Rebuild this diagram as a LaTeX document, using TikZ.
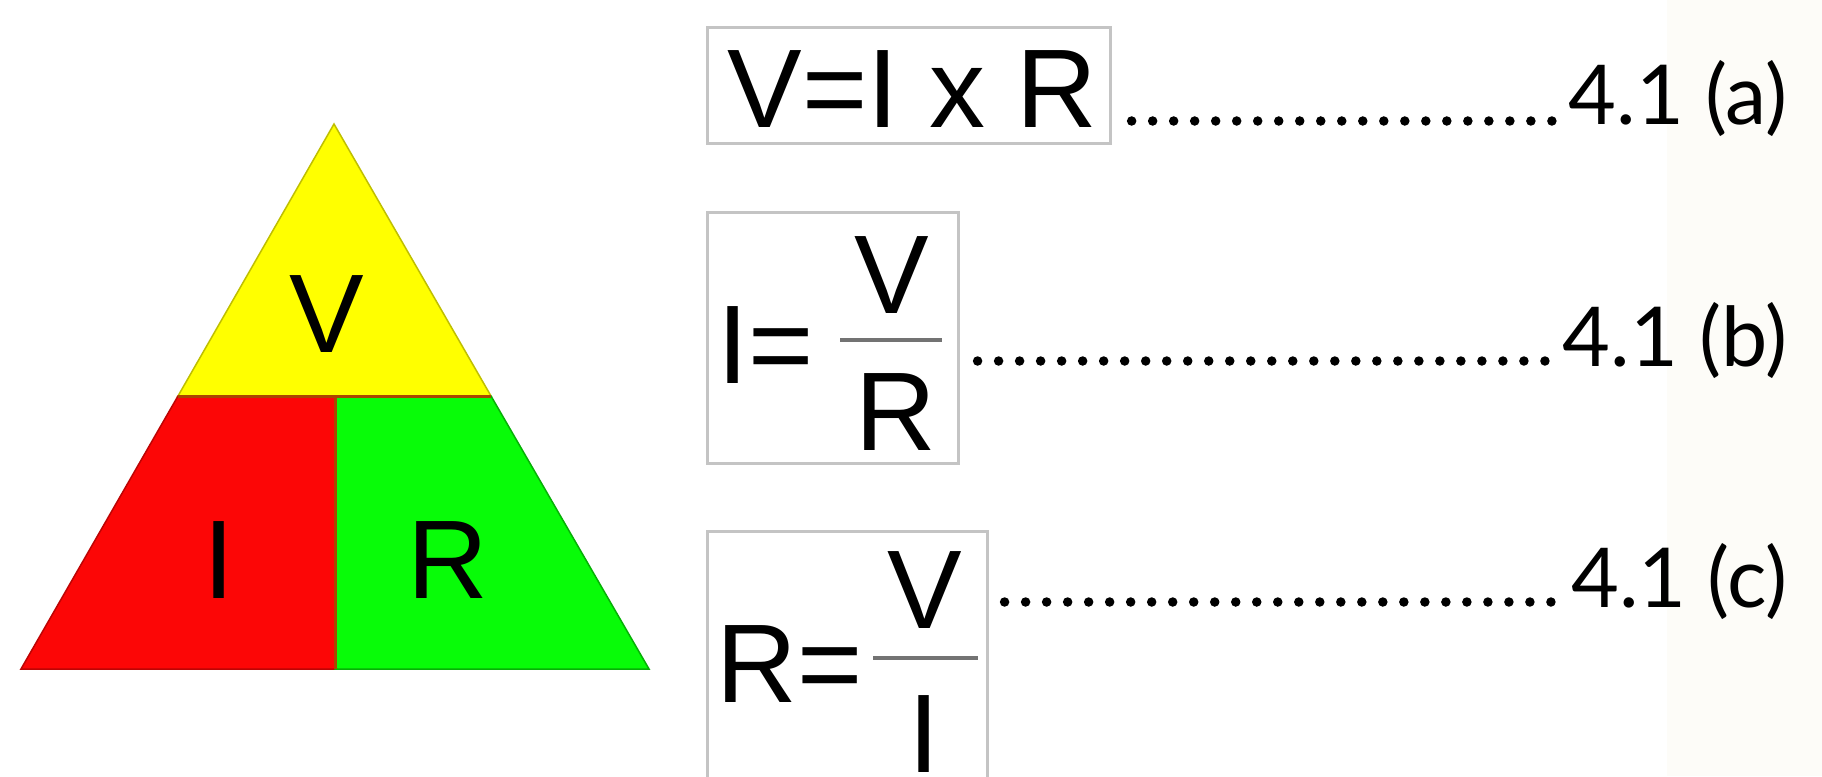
\documentclass[tikz,border=0pt]{standalone}
\usepackage{fontspec}
\setmainfont{Liberation Sans}
\newfontfamily\latofont{Lato}
\definecolor{ohmyellow}{RGB}{255,255,0}
\definecolor{ohmred}{RGB}{252,6,6}
\definecolor{ohmgreen}{RGB}{8,252,8}
\definecolor{edgebrown}{RGB}{170,70,0}
\definecolor{boxgray}{RGB}{196,196,196}
\definecolor{bargray}{RGB}{115,115,115}
\definecolor{creamside}{RGB}{253,252,248}
\usetikzlibrary{calc}

\tikzset{
  sym/.style={font=\fontsize{31.8}{36}\selectfont,inner sep=0pt},
  eqbox/.style={draw=boxgray,line width=0.03cm,inner sep=0pt},
  fracbar/.style={draw=bargray,line width=0.04cm},
  tag/.style={font=\latofont\fontsize{23.5}{28}\selectfont,inner sep=0pt,anchor=base east},
  leader/.style={line width=0.095cm,line cap=round,dash pattern=on 0pt off 0.21cm}
}

\begin{document}
\begin{tikzpicture}[x=0.01cm,y=-0.01cm]
  \clip (0,0) rectangle (1822,776);
  \fill[white] (0,0) rectangle (1822,776);
  \fill[creamside] (1667,0) rectangle (1822,776);

  \filldraw[fill=ohmyellow,draw=ohmyellow!75!black,line width=0.015cm]
    (334,124) -- (491,396) -- (178,396) -- cycle;
  \filldraw[fill=ohmred,draw=ohmred!75!black,line width=0.015cm]
    (178,396) -- (335,396) -- (335,669) -- (21,669) -- cycle;
  \filldraw[fill=ohmgreen,draw=ohmgreen!70!black,line width=0.015cm]
    (335,396) -- (491,396) -- (649,669) -- (335,669) -- cycle;
  \draw[edgebrown,line width=0.03cm] (178,396) -- (491,396);
  \draw[edgebrown,line width=0.03cm] (335,396) -- (335,669);
  \node[sym,anchor=base] (triV) at (327,352) {V};
  \node[sym,anchor=base] (triI) at (219,598) {I};
  \node[sym,anchor=base] (triR) at (448,598) {R};

  \node[eqbox,minimum width=4.02cm,minimum height=1.15cm] (boxA) at (909,85.5) {};
  \node[sym,anchor=base west] (eqA) at (727,127) {V=I x R};

  \node[eqbox,minimum width=2.5cm,minimum height=2.5cm] (boxB) at (833,338) {};
  \node[sym,anchor=base west] (eqBl) at (716.5,383) {I=};
  \node[sym,anchor=base] (eqBn) at (892,313) {V};
  \node[sym,anchor=base] (eqBd) at (896,450) {R};
  \draw[fracbar] (840,340) -- (942,340);

  \node[eqbox,minimum width=2.79cm,minimum height=2.64cm] (boxC) at (847.5,664) {};
  \node[sym,anchor=base west] (eqCl) at (716,702) {R=};
  \node[sym,anchor=base] (eqCn) at (925,628) {V};
  \node[sym,anchor=base] (eqCd) at (924,772) {I};
  \draw[fracbar] (873,658) -- (978,658);

  \node[tag] (tagA) at (1788,125) {4.1 (a)};
  \node[tag] (tagB) at (1788,366) {4.1 (b)};
  \node[tag] (tagC) at (1788,607) {4.1 (c)};

  \draw[leader] ($(boxA.east |- tagA.base)+(20,-4)$) -- ($(tagA.base west)+(-4,-4)$);
  \draw[leader] ($(boxB.east |- tagB.base)+(18,-5)$) -- ($(tagB.base west)+(-4,-5)$);
  \draw[leader] ($(boxC.east |- tagC.base)+(16,-5)$) -- ($(tagC.base west)+(-4,-5)$);
\end{tikzpicture}
\end{document}
